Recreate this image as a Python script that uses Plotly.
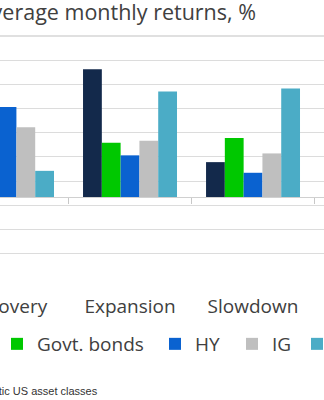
import plotly.graph_objects as go

# ---- data (off-frame values estimated) ----
phases = ["Recovery", "Expansion", "Slowdown", "Contraction"]
equities = [1.45, 1.32, 0.36, -0.55]
govt_bonds = [0.35, 0.56, 0.61, 0.78]
hy = [0.93, 0.43, 0.25, -0.35]
ig = [0.72, 0.58, 0.45, 0.42]
commodities = [0.27, 1.09, 1.12, -0.75]

series_names = ["Equities", "Govt. bonds", "HY", "IG", "Commodities"]
series_values = [equities, govt_bonds, hy, ig, commodities]
series_colors = ["#13294b", "#00c800", "#0a62d0", "#bfbfbf", "#4bacc6"]

title_text = "Average monthly returns, %"
footer_text = "Source: Domestic US asset classes"

W, H = 324, 400
TOP, BOTTOM = 36, 278
PH = BOTTOM - TOP
y_range = [-0.837, 1.663]
x_range = [-0.057, 2.577]
FONT = "Open Sans, Noto Sans, DejaVu Sans, sans-serif"
TXT = "#404040"

# pixel x of the left edge of each legend square (layout, not data)
legend_square_px = [-114, 11, 169, 246, 311]
LEG_Y_PX = 344

fig = go.Figure()
legend_layouts = {}
for i, (name, vals, col) in enumerate(zip(series_names, series_values, series_colors)):
    lid = "legend" if i == 0 else f"legend{i + 1}"
    fig.add_trace(go.Bar(x=phases, y=vals, name=name, legend=lid,
                         marker=dict(color=col, line=dict(width=0))))
    legend_layouts[lid] = dict(
        orientation="h", x=(legend_square_px[i] - 14) / W,
        y=-(LEG_Y_PX - BOTTOM) / PH, xanchor="left", yanchor="middle",
        font=dict(size=19, color=TXT, family=FONT), itemwidth=30,
        bgcolor="rgba(0,0,0,0)", borderwidth=0)

zero_pos = (0 - y_range[0]) / (y_range[1] - y_range[0])

fig.update_layout(
    width=W, height=H,
    margin=dict(l=0, r=0, t=TOP, b=H - BOTTOM, pad=0, autoexpand=False),
    paper_bgcolor="white", plot_bgcolor="white",
    barmode="group", bargap=0.236, bargroupgap=0,
    font=dict(family=FONT, size=19, color=TXT),
    showlegend=True,
    xaxis=dict(type="category", categoryorder="array", categoryarray=phases,
               range=x_range, anchor="free", position=zero_pos,
               showline=True, linecolor="#d0d0d0", linewidth=1,
               ticks="outside", ticklen=6, tickcolor="#c8c8c8", tickwidth=1,
               tickson="boundaries", showgrid=False, automargin=False,
               tickangle=0, ticklabelstandoff=92,
               tickfont=dict(size=19, color=TXT)),
    yaxis=dict(range=y_range, showgrid=True, gridcolor="#dcdcdc", gridwidth=1,
               tick0=-0.835, dtick=0.25, showticklabels=False, zeroline=False,
               showline=False, ticks="", automargin=False),
    **legend_layouts,
)

# light separator at the top of the plot area
fig.add_shape(type="line", xref="paper", yref="paper", x0=0, x1=1, y0=1, y1=1,
              line=dict(color="#e0e0e0", width=2))

fig.add_annotation(text=title_text, xref="paper", yref="paper",
                   x=117 / W, y=1 + (TOP - 12) / PH,
                   xanchor="center", yanchor="middle", showarrow=False,
                   font=dict(size=21.5, color=TXT, family=FONT))
fig.add_annotation(text=footer_text, xref="paper", yref="paper",
                   x=100 / W, y=-(391 - BOTTOM) / PH,
                   xanchor="right", yanchor="middle", showarrow=False,
                   font=dict(size=11, color="#333333",
                             family="Liberation Sans, Arial, sans-serif"))

fig.write_html("out.html", config={"displayModeBar": False})
